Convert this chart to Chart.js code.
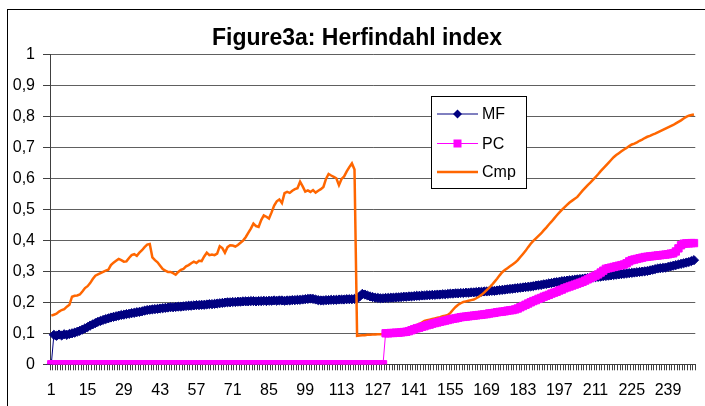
<!DOCTYPE html>
<html>
<head>
<meta charset="utf-8">
<script src="https://cdn.jsdelivr.net/npm/chart.js@4.4.1/dist/chart.umd.min.js"></script>
<style>
  html, body { margin: 0; padding: 0; background: #fff; }
  #wrap { width: 705px; height: 406px; position: relative; }
</style>
</head>
<body>
<div id="wrap"><canvas id="grafica"></canvas></div>
<script>
// valores (periodos 1..249)
const MF = [
  0, 0.095, 0.092, 0.096, 0.093, 0.097, 0.095, 0.098, 0.100, 0.102,
  0.105, 0.108, 0.112, 0.116, 0.120, 0.125, 0.129, 0.133, 0.137, 0.140,
  0.143, 0.146, 0.148, 0.151, 0.153, 0.155, 0.157, 0.159, 0.160, 0.162,
  0.163, 0.165, 0.166, 0.168, 0.169, 0.171, 0.173, 0.175, 0.176, 0.177,
  0.178, 0.179, 0.180, 0.181, 0.182, 0.183, 0.184, 0.184, 0.185, 0.186,
  0.186, 0.187, 0.188, 0.189, 0.189, 0.190, 0.191, 0.191, 0.192, 0.192,
  0.193, 0.194, 0.194, 0.195, 0.196, 0.197, 0.198, 0.199, 0.200, 0.200,
  0.201, 0.201, 0.202, 0.202, 0.203, 0.203, 0.203, 0.204, 0.204, 0.203,
  0.204, 0.204, 0.205, 0.204, 0.205, 0.205, 0.206, 0.205, 0.206, 0.206,
  0.205, 0.206, 0.206, 0.207, 0.207, 0.208, 0.208, 0.209, 0.210, 0.211,
  0.212, 0.211, 0.209, 0.207, 0.206, 0.206, 0.207, 0.207, 0.208, 0.208,
  0.208, 0.209, 0.209, 0.209, 0.210, 0.210, 0.210, 0.211, 0.212, 0.219,
  0.227, 0.225, 0.222, 0.219, 0.217, 0.215, 0.214, 0.213, 0.213, 0.214,
  0.214, 0.215, 0.215, 0.216, 0.216, 0.217, 0.218, 0.218, 0.219, 0.219,
  0.220, 0.221, 0.221, 0.222, 0.222, 0.223, 0.223, 0.224, 0.224, 0.225,
  0.225, 0.226, 0.226, 0.227, 0.228, 0.228, 0.229, 0.229, 0.230, 0.230,
  0.231, 0.231, 0.232, 0.232, 0.233, 0.234, 0.234, 0.235, 0.235, 0.236,
  0.237, 0.237, 0.238, 0.239, 0.240, 0.241, 0.242, 0.243, 0.244, 0.245,
  0.246, 0.247, 0.248, 0.249, 0.250, 0.251, 0.252, 0.254, 0.255, 0.256,
  0.258, 0.259, 0.261, 0.262, 0.264, 0.265, 0.266, 0.268, 0.269, 0.270,
  0.271, 0.272, 0.273, 0.274, 0.275, 0.276, 0.277, 0.278, 0.279, 0.280,
  0.281, 0.282, 0.283, 0.284, 0.285, 0.286, 0.287, 0.288, 0.289, 0.290,
  0.291, 0.292, 0.293, 0.294, 0.295, 0.296, 0.297, 0.298, 0.299, 0.300,
  0.301, 0.303, 0.305, 0.307, 0.309, 0.310, 0.311, 0.312, 0.314, 0.316,
  0.318, 0.320, 0.322, 0.324, 0.326, 0.328, 0.330, 0.333, 0.336
];

const PC = [
  0, 0, 0, 0, 0, 0, 0, 0, 0, 0,
  0, 0, 0, 0, 0, 0, 0, 0, 0, 0,
  0, 0, 0, 0, 0, 0, 0, 0, 0, 0,
  0, 0, 0, 0, 0, 0, 0, 0, 0, 0,
  0, 0, 0, 0, 0, 0, 0, 0, 0, 0,
  0, 0, 0, 0, 0, 0, 0, 0, 0, 0,
  0, 0, 0, 0, 0, 0, 0, 0, 0, 0,
  0, 0, 0, 0, 0, 0, 0, 0, 0, 0,
  0, 0, 0, 0, 0, 0, 0, 0, 0, 0,
  0, 0, 0, 0, 0, 0, 0, 0, 0, 0,
  0, 0, 0, 0, 0, 0, 0, 0, 0, 0,
  0, 0, 0, 0, 0, 0, 0, 0, 0, 0,
  0, 0, 0, 0, 0, 0, 0, 0, 0,
  0.100, 0.100, 0.101, 0.101, 0.102, 0.102, 0.103, 0.104, 0.105, 0.107,
  0.110, 0.113, 0.116, 0.118, 0.121, 0.123, 0.126, 0.128, 0.131, 0.133,
  0.135, 0.137, 0.139, 0.141, 0.143, 0.145, 0.147, 0.148, 0.150, 0.152,
  0.153, 0.154, 0.155, 0.156, 0.157, 0.158, 0.159, 0.160, 0.161, 0.162,
  0.164, 0.165, 0.166, 0.168, 0.169, 0.170, 0.171, 0.173, 0.174, 0.175,
  0.177, 0.180, 0.184, 0.188, 0.192, 0.196, 0.200, 0.204, 0.207, 0.211,
  0.214, 0.218, 0.221, 0.224, 0.228, 0.231, 0.234, 0.238, 0.241, 0.245,
  0.248, 0.251, 0.254, 0.257, 0.260, 0.263, 0.266, 0.270, 0.274, 0.278,
  0.282, 0.286, 0.290, 0.296, 0.302, 0.308, 0.310, 0.312, 0.314, 0.316,
  0.318, 0.320, 0.322, 0.326, 0.332, 0.336, 0.338, 0.340, 0.342, 0.344,
  0.346, 0.347, 0.348, 0.349, 0.350, 0.351, 0.352, 0.353, 0.354, 0.355,
  0.357, 0.358, 0.364, 0.374, 0.384, 0.389, 0.390, 0.390, 0.391, 0.391
];

const Cmp = [
  0.157, 0.160, 0.163, 0.170, 0.175, 0.178, 0.186, 0.192, 0.218, 0.221,
  0.222, 0.225, 0.235, 0.246, 0.252, 0.262, 0.275, 0.286, 0.290, 0.294,
  0.298, 0.302, 0.305, 0.320, 0.328, 0.334, 0.340, 0.336, 0.331, 0.332,
  0.343, 0.352, 0.355, 0.350, 0.360, 0.368, 0.378, 0.386, 0.388, 0.345,
  0.336, 0.329, 0.318, 0.307, 0.302, 0.298, 0.298, 0.294, 0.289, 0.298,
  0.305, 0.308, 0.316, 0.320, 0.326, 0.331, 0.327, 0.334, 0.333, 0.348,
  0.360, 0.352, 0.354, 0.352, 0.357, 0.381, 0.375, 0.360, 0.378, 0.384,
  0.383, 0.380, 0.385, 0.392, 0.399, 0.410, 0.424, 0.438, 0.454, 0.446,
  0.443, 0.465, 0.480, 0.476, 0.470, 0.490, 0.512, 0.526, 0.532, 0.520,
  0.552, 0.556, 0.553, 0.560, 0.565, 0.568, 0.589, 0.574, 0.557, 0.561,
  0.556, 0.562, 0.554, 0.560, 0.565, 0.572, 0.598, 0.614, 0.609, 0.605,
  0.600, 0.578, 0.598, 0.606, 0.622, 0.636, 0.648, 0.628, 0.092, 0.093,
  0.094, 0.094, 0.095, 0.095, 0.096, 0.096, 0.097, 0.097, 0.098, 0.099,
  0.100, 0.101, 0.103, 0.105, 0.107, 0.109, 0.111, 0.113, 0.116, 0.119,
  0.122, 0.126, 0.130, 0.135, 0.140, 0.142, 0.144, 0.146, 0.148, 0.150,
  0.152, 0.155, 0.157, 0.159, 0.166, 0.176, 0.185, 0.192, 0.197, 0.201,
  0.203, 0.205, 0.207, 0.209, 0.213, 0.218, 0.224, 0.231, 0.239, 0.247,
  0.256, 0.266, 0.276, 0.287, 0.297, 0.304, 0.310, 0.316, 0.322, 0.328,
  0.336, 0.346, 0.356, 0.366, 0.378, 0.389, 0.398, 0.406, 0.414, 0.422,
  0.432, 0.441, 0.451, 0.460, 0.470, 0.480, 0.489, 0.498, 0.506, 0.514,
  0.522, 0.528, 0.534, 0.540, 0.550, 0.560, 0.569, 0.578, 0.586, 0.595,
  0.604, 0.613, 0.623, 0.632, 0.641, 0.650, 0.659, 0.668, 0.675, 0.681,
  0.687, 0.693, 0.698, 0.704, 0.709, 0.712, 0.716, 0.721, 0.725, 0.730,
  0.734, 0.737, 0.741, 0.744, 0.748, 0.752, 0.756, 0.760, 0.764, 0.768,
  0.772, 0.777, 0.782, 0.787, 0.793, 0.798, 0.802, 0.804, 0.806
];

// etiquetas visibles del eje x
const etiquetasX = ['1', '15', '29', '43', '57', '71', '85', '99', '113', '127',
  '141', '155', '169', '183', '197', '211', '225', '239'];

const periodos = MF.map((v, i) => String(i + 1));

const fuente = '"Liberation Sans", Arial, sans-serif';

// marco exterior
const marco = {
  id: 'marco',
  beforeDraw(chart) {
    const ctx = chart.ctx;
    ctx.save();
    ctx.fillStyle = '#fff';
    ctx.fillRect(0, 0, chart.width, chart.height);
    ctx.strokeStyle = '#000';
    ctx.lineWidth = 1;
    ctx.strokeRect(7.5, 9.5, chart.width + 10, chart.height + 10);
    ctx.restore();
  }
};

// leyenda dentro del area
const leyenda = {
  id: 'leyenda',
  afterDraw(chart) {
    const ctx = chart.ctx;
    ctx.save();
    ctx.fillStyle = '#fff';
    ctx.fillRect(431.5, 96.5, 95, 92);
    ctx.strokeStyle = '#000';
    ctx.lineWidth = 1;
    ctx.strokeRect(431.5, 96.5, 95, 92);
    const filas = [114, 143.5, 172];
    chart.data.datasets.forEach((ds, i) => {
      const y = filas[i];
      ctx.strokeStyle = ds.borderColor;
      ctx.lineWidth = ds.borderWidth;
      ctx.beginPath();
      ctx.moveTo(437, y);
      ctx.lineTo(478, y);
      ctx.stroke();
      ctx.fillStyle = ds.borderColor;
      if (ds.pointStyle === 'rectRot') {
        ctx.beginPath();
        ctx.moveTo(457.5, y - 4.5);
        ctx.lineTo(462, y);
        ctx.lineTo(457.5, y + 4.5);
        ctx.lineTo(453, y);
        ctx.closePath();
        ctx.fill();
      } else if (ds.pointStyle === 'rect') {
        ctx.fillRect(453.5, y - 4, 8, 8);
      }
      ctx.fillStyle = '#000';
      ctx.font = '16px ' + fuente;
      ctx.textBaseline = 'middle';
      ctx.fillText(ds.label, 482, y + 1);
    });
    ctx.restore();
  }
};

new Chart(document.getElementById('grafica'), {
  type: 'line',
  data: {
    labels: periodos,
    datasets: [
      {
        label: 'MF',
        data: MF,
        borderColor: '#000080',
        backgroundColor: '#000080',
        borderWidth: 1,
        pointStyle: 'rectRot',
        pointRadius: 4.6,
        pointBorderWidth: 1,
        order: 3
      },
      {
        label: 'PC',
        data: PC,
        borderColor: '#FF00FF',
        backgroundColor: '#FF00FF',
        borderWidth: 1,
        pointStyle: 'rect',
        pointRadius: 5.2,
        pointBorderWidth: 1,
        order: 1
      },
      {
        label: 'Cmp',
        data: Cmp,
        borderColor: '#FF6600',
        backgroundColor: '#FF6600',
        borderWidth: 2.5,
        pointRadius: 0,
        order: 2
      }
    ]
  },
  options: {
    responsive: true,
    maintainAspectRatio: false,
    animation: false,
    layout: { padding: { left: 9, right: 0, top: 0, bottom: 0 } },
    elements: { line: { tension: 0 } },
    plugins: {
      legend: { display: false },
      tooltip: { enabled: false },
      title: {
        display: true,
        text: 'Figure3a: Herfindahl index',
        color: '#000',
        font: { family: fuente, size: 23, weight: 'bold', lineHeight: 1.2 },
        padding: { top: 24.5, bottom: 2.2 }
      }
    },
    scales: {
      x: {
        offset: true,
        afterFit: (scale) => { scale.height = 41.7; },
        grid: {
          offset: true,
          drawOnChartArea: false,
          drawTicks: true,
          tickLength: 6,
          color: '#404040'
        },
        border: { display: true, color: '#404040', width: 1 },
        ticks: {
          autoSkip: false,
          maxRotation: 0,
          minRotation: 0,
          padding: 11,
          color: '#000',
          font: { family: fuente, size: 16 },
          callback: function (value) {
            const lab = this.getLabelForValue(value);
            return etiquetasX.includes(lab) ? lab : '';
          }
        }
      },
      y: {
        min: 0,
        max: 1,
        afterFit: (scale) => { scale.width = 41; },
        grid: {
          color: '#606060',
          tickColor: '#404040',
          tickLength: 7
        },
        border: { display: true, color: '#404040', width: 1 },
        ticks: {
          stepSize: 0.1,
          padding: 8,
          color: '#000',
          font: { family: fuente, size: 16 },
          callback: (v) => {
            const r = Math.round(v * 10) / 10;
            return (r === 0 || r === 1) ? String(r) : r.toFixed(1).replace('.', ',');
          }
        }
      }
    }
  },
  plugins: [marco, leyenda]
});
</script>
</body>
</html>
